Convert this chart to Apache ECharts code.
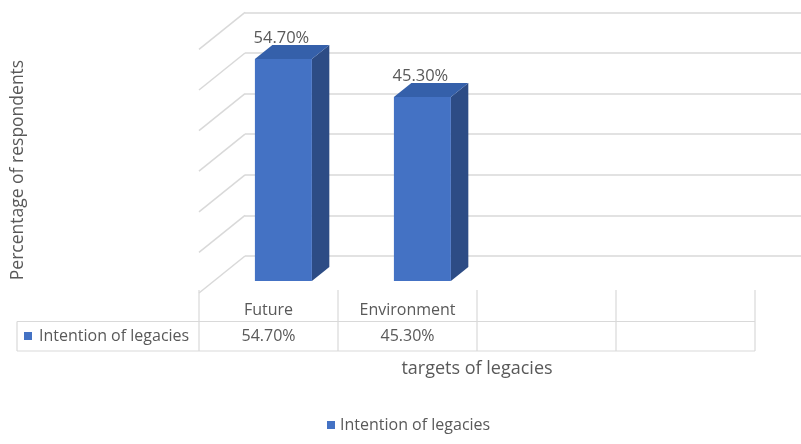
<!DOCTYPE html>
<html>
<head>
<meta charset="utf-8">
<script src="https://cdn.jsdelivr.net/npm/echarts@6/dist/echarts.min.js"></script>
<style>
  html, body { margin: 0; padding: 0; background: #ffffff; }
  #chart { width: 801px; height: 444px; }
</style>
</head>
<body>
<div id="chart"></div>
<script>
// Chart data
const categories = ['Future', 'Environment', '', ''];
const seriesName = 'Intention of legacies';
const seriesValues = [54.7, 45.3, null, null];
const axisTitleY = 'Percentage of respondents';
const axisTitleX = 'targets of legacies';

// Value axis scale
const Y_MAX = 60;
const Y_STEP = 10;

// Layout of the back wall (the grid) and the perspective depth offset
const GRID_LEFT = 245, GRID_RIGHT = -5, GRID_TOP = 12.4, GRID_BOTTOM = 188;
const DEPTH_DX = -46, DEPTH_DY = 37;     // back wall -> front edge of floor
const BAR_FRONT = 0.676, BAR_BACK = 0.297; // depth fraction of bar faces
const BAR_RATIO = 0.41;

const FONT = '"Open Sans", "Noto Sans", sans-serif';
const TEXT_COLOR = '#595959';
const LINE_COLOR = '#d9d9d9';
const FRONT_COLOR = '#4472C4';
const TOP_COLOR = '#3560AA';
const SIDE_COLOR = '#2D4C85';
const TABLE_FONT = '16px ' + FONT;

const fmt = v => v.toFixed(2) + '%';

const chart = echarts.init(document.getElementById('chart'), null, { renderer: 'canvas' });

function renderBar(params, api) {
  const idx = api.value(0);
  const val = api.value(1);
  if (val == null || isNaN(val)) return null;
  const base = api.coord([idx, 0]);
  const top = api.coord([idx, val]);
  const w = api.size([1, 0])[0] * BAR_RATIO;
  const fdx = DEPTH_DX * BAR_FRONT, fdy = DEPTH_DY * BAR_FRONT;
  const bdx = DEPTH_DX * BAR_BACK, bdy = DEPTH_DY * BAR_BACK;
  const fl = base[0] + fdx - w / 2, fr = base[0] + fdx + w / 2;
  const bl = base[0] + bdx - w / 2, br = base[0] + bdx + w / 2;
  const fTop = top[1] + fdy, fBot = base[1] + fdy;
  const bTop = top[1] + bdy, bBot = base[1] + bdy;
  return {
    type: 'group',
    children: [
      {
        type: 'polygon',
        shape: { points: [[fr, fTop], [br, bTop], [br, bBot], [fr, fBot]] },
        style: { fill: SIDE_COLOR }
      },
      {
        type: 'polygon',
        shape: { points: [[fl, fTop], [fr, fTop], [br, bTop], [bl, bTop]] },
        style: { fill: TOP_COLOR }
      },
      {
        type: 'rect',
        shape: { x: fl, y: fTop, width: w, height: fBot - fTop },
        style: { fill: FRONT_COLOR }
      },
      {
        type: 'text',
        x: (fl + fr) / 2 - 2,
        y: fTop - 12,
        style: {
          text: fmt(val),
          align: 'center',
          verticalAlign: 'bottom',
          fill: TEXT_COLOR,
          font: '16.5px ' + FONT
        }
      }
    ]
  };
}

chart.setOption({
  backgroundColor: '#ffffff',
  animation: false,
  textStyle: { fontFamily: FONT },
  grid: { left: GRID_LEFT, right: GRID_RIGHT, top: GRID_TOP, bottom: GRID_BOTTOM },
  xAxis: {
    type: 'category',
    data: categories,
    axisLine: { show: false },
    axisTick: { show: false },
    axisLabel: { show: false },
    splitLine: { show: false }
  },
  yAxis: {
    type: 'value',
    min: 0,
    max: Y_MAX,
    interval: Y_STEP,
    axisLine: { show: false },
    axisTick: { show: false },
    axisLabel: { show: false },
    splitLine: { show: true, lineStyle: { color: LINE_COLOR, width: 1.5 } }
  },
  legend: {
    left: 327,
    top: 417,
    padding: 0,
    icon: 'rect',
    itemWidth: 8,
    itemHeight: 8,
    itemGap: 6,
    textStyle: { color: TEXT_COLOR, fontSize: 16, fontFamily: FONT },
    data: [seriesName]
  },
  series: [{
    name: seriesName,
    type: 'custom',
    renderItem: renderBar,
    itemStyle: { color: FRONT_COLOR },
    encode: { x: 0, y: 1 },
    data: seriesValues.map((v, i) => [i, v])
  }]
});

// Side wall diagonals, data table and axis titles, positioned from the grid
function buildDecor() {
  const els = [];
  const gridRect = chart.getModel().getComponent('grid', 0).coordinateSystem.getRect();
  const backLeft = gridRect.x;
  for (let v = 0; v <= Y_MAX; v += Y_STEP) {
    const y = chart.convertToPixel({ yAxisIndex: 0 }, v);
    els.push({
      type: 'line',
      shape: { x1: backLeft, y1: y, x2: backLeft + DEPTH_DX, y2: y + DEPTH_DY },
      style: { stroke: LINE_COLOR, lineWidth: 1.5 },
      silent: true
    });
  }

  // Data table on the front plane
  const colW = gridRect.width / categories.length;
  const tableLeft = backLeft + DEPTH_DX;
  const tableRight = tableLeft + colW * categories.length;
  const floorY = gridRect.y + gridRect.height + DEPTH_DY - 3;
  const rowTop = 321.5, rowBot = 351;
  const legendCellLeft = 17;
  const line = (x1, y1, x2, y2) => els.push({
    type: 'line', silent: true,
    shape: { x1, y1, x2, y2 },
    style: { stroke: LINE_COLOR, lineWidth: 1.2 }
  });
  line(legendCellLeft, rowTop, tableRight, rowTop);
  line(legendCellLeft, rowBot, tableRight, rowBot);
  line(legendCellLeft, rowTop, legendCellLeft, rowBot);
  for (let i = 0; i <= categories.length; i++) {
    const x = tableLeft + colW * i;
    line(x, floorY, x, rowBot);
  }
  categories.forEach((c, i) => {
    const cx = tableLeft + colW * (i + 0.5);
    els.push({
      type: 'text', silent: true, x: cx, y: 310,
      style: { text: c, align: 'center', verticalAlign: 'middle', fill: TEXT_COLOR, font: TABLE_FONT }
    });
    const v = seriesValues[i];
    if (v != null) {
      els.push({
        type: 'text', silent: true, x: cx, y: 336,
        style: { text: fmt(v), align: 'center', verticalAlign: 'middle', fill: TEXT_COLOR, font: TABLE_FONT }
      });
    }
  });
  els.push({
    type: 'rect', silent: true,
    shape: { x: 24, y: 332, width: 8, height: 8 },
    style: { fill: FRONT_COLOR }
  });
  els.push({
    type: 'text', silent: true, x: 39, y: 336,
    style: { text: seriesName, align: 'left', verticalAlign: 'middle', fill: TEXT_COLOR, font: TABLE_FONT }
  });

  // Axis titles
  els.push({
    type: 'text', silent: true, x: 477, y: 369,
    style: { text: axisTitleX, align: 'center', verticalAlign: 'middle', fill: TEXT_COLOR, font: '18px ' + FONT }
  });
  els.push({
    type: 'text', silent: true, x: 18, y: 170, rotation: Math.PI / 2,
    style: { text: axisTitleY, align: 'center', verticalAlign: 'middle', fill: TEXT_COLOR, font: '17.5px ' + FONT }
  });
  chart.setOption({ graphic: { elements: els } });
}
buildDecor();
</script>
</body>
</html>
